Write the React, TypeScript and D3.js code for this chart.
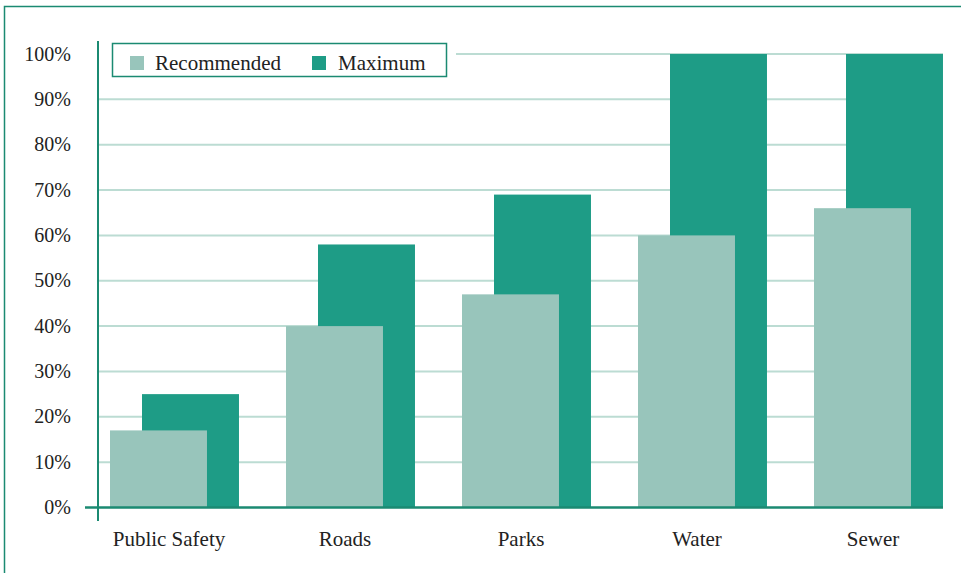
import React from "react";
import * as d3 from "d3";

const categories = ["Public Safety", "Roads", "Parks", "Water", "Sewer"];
const recommended = [17, 40, 47, 60, 66];
const maximum = [25, 58, 69, 100, 100];
const yTicks = [0, 10, 20, 30, 40, 50, 60, 70, 80, 90, 100];
const seriesNames = ["Recommended", "Maximum"];

const REC = "#98c5bb";
const MAX = "#1e9c86";
const DARK = "#1b8a72";
const GRID = "#bcdcd3";
const FONT = "'Liberation Serif', 'Times New Roman', serif";

export default function App() {
  const W = 961, H = 573;
  const x = d3.scaleBand<string>().domain(categories).range([98, 978]).padding(0);
  const y = d3.scaleLinear().domain([0, 100]).range([507.5, 54]);
  const step = x.step();
  const bw = step * 0.551;
  const recOff = step * (12 / 176);
  const maxOff = step * (44 / 176);

  return (
    <svg width={W} height={H} style={{ position: "absolute", left: 0, top: 0, background: "#fff" }}>
      <rect x={4.5} y={6.5} width={W + 20} height={H + 20} fill="none" stroke={DARK} strokeWidth={1.5} />
      {yTicks.filter((t) => t > 0).map((t) => (
        <line key={t} x1={t === 100 ? 456 : 98} x2={943} y1={y(t)} y2={y(t)} stroke={GRID} strokeWidth={2} />
      ))}
      {categories.map((c, i) => (
        <g key={c}>
          <rect x={(x(c) as number) + maxOff} y={y(maximum[i])} width={bw} height={y(0) - y(maximum[i])} fill={MAX} />
          <rect x={(x(c) as number) + recOff} y={y(recommended[i])} width={bw} height={y(0) - y(recommended[i])} fill={REC} />
          <text x={(x(c) as number) + step * (71 / 176)} y={546} textAnchor="middle" fontFamily={FONT} fontSize={21} fill="#222">{c}</text>
        </g>
      ))}
      <line x1={98} x2={98} y1={41} y2={521} stroke={DARK} strokeWidth={2} />
      <line x1={85} x2={943} y1={y(0)} y2={y(0)} stroke={DARK} strokeWidth={2.5} />
      {yTicks.map((t) => (
        <text key={t} x={71} y={y(t) + 6.5} textAnchor="end" fontFamily={FONT} fontSize={20} fill="#222">{t}%</text>
      ))}
      <rect x={112.5} y={43.5} width={334} height={33} fill="#fff" stroke={DARK} strokeWidth={1.5} />
      <rect x={130} y={56} width={14} height={14} fill={REC} />
      <text x={155} y={70} fontFamily={FONT} fontSize={21} fill="#222">{seriesNames[0]}</text>
      <rect x={312} y={56} width={14} height={14} fill={MAX} />
      <text x={338} y={70} fontFamily={FONT} fontSize={21} fill="#222">{seriesNames[1]}</text>
    </svg>
  );
}
